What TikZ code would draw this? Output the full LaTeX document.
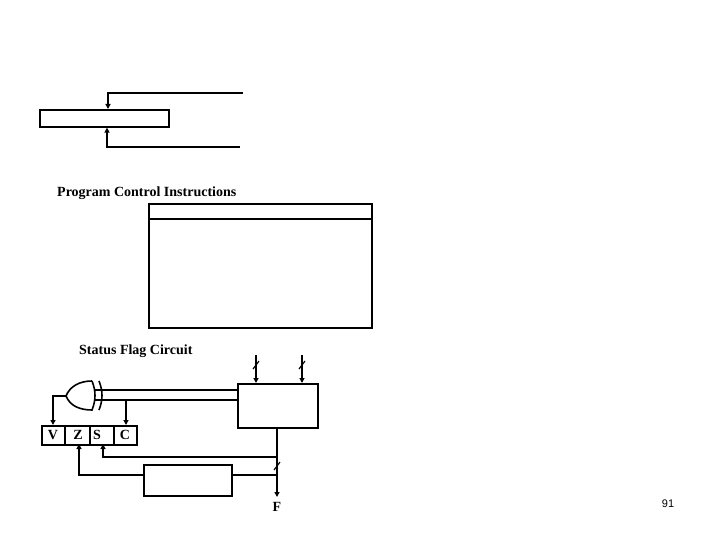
\documentclass[tikz,border=0pt]{standalone}
\usepackage{fontspec}
\setmainfont{Liberation Serif}
\newfontfamily\sansf{Liberation Sans}
\usetikzlibrary{arrows.meta}
\begin{document}
\begin{tikzpicture}[x=1pt,y=-1pt,
  wire/.style={line width=1.6pt},
  arr/.style={wire,-{Triangle[length=5pt,width=5pt]}},
  box/.style={draw,line width=1.6pt,inner sep=0pt,anchor=north west},
  lbl/.style={font=\bfseries\fontsize{14}{16}\selectfont,inner sep=0pt},
  flag/.style={font=\bfseries\fontsize{14}{16}\selectfont,inner sep=0pt}]
\useasboundingbox (0,0) rectangle (720,540);
% top register
\node[box,minimum width=129pt,minimum height=17pt] (reg) at (39,109) {};
\coordinate (t1) at (243,93); \coordinate (t2) at (108,93);
\coordinate (b1) at (240,147); \coordinate (b2) at (107,147);
\draw[arr] (t1) -- (t2) -- (t2 |- reg.north);
\draw[arr] (b1) -- (b2) -- (b2 |- reg.south);
\node[lbl,anchor=west] (pci) at (57,193) {Program Control Instructions};
\node[box,minimum width=223pt,minimum height=124pt] (tab) at (148,203) {};
\draw[wire] (148,219) -- (371,219);
\node[lbl,anchor=west] (sfc) at (79,351) {Status Flag Circuit};
% flags
\node[box,minimum width=95pt,minimum height=19pt] (flags) at (41,425) {};
\draw[wire] (65,425) -- (65,444) (90,425) -- (90,444) (114,425) -- (114,444);
\node[flag] (fv) at (53,435) {V};
\node[flag] (fz) at (78,435) {Z};
\node[flag] (fs) at (97,435) {S};
\node[flag] (fc) at (125,435) {C};
% ALU
\node[box,minimum width=80pt,minimum height=44pt] (alu) at (237,383) {};
\foreach \x in {256,302}{
  \draw[arr] (\x,355) -- (\x,383);
  \draw[line width=1.2pt] (\x-3,369) -- (\x+3,361);
}
% XOR gate (output left)
\draw[wire] (92,381) .. controls (80,381) and (70,386) .. (66,396)
  .. controls (70,406) and (80,410) .. (92,410)
  .. controls (96,400) and (96,391) .. (92,381);
\draw[wire] (99,381) .. controls (103,391) and (103,400) .. (99,410);
\draw[wire] (237,390) -- (94,390);
\draw[wire] (237,400) -- (94,400);
\draw[arr] (66,396) -- (53,396) -- (53,425);
\draw[arr] (126,400) -- (126,425);
% output F
\coordinate (fo) at (277,497);
\node[lbl] (F) at (277,507) {F};
\draw[arr] (alu.south -| fo) -- (fo);
\draw[line width=1.2pt] (274,470) -- (280,462);
\draw[arr] (277,457) -- (103,457) -- (103,444);
\node[box,minimum width=88pt,minimum height=31pt] (zd) at (143,464) {};
\draw[wire] (zd.east |- 0,475) -- (277,475);
\draw[arr] (zd.west |- 0,475) -- (79,475) -- (79,444);
\node[font=\sansf\fontsize{11}{13}\selectfont] (pg) at (668,504) {91};
\end{tikzpicture}
\end{document}
